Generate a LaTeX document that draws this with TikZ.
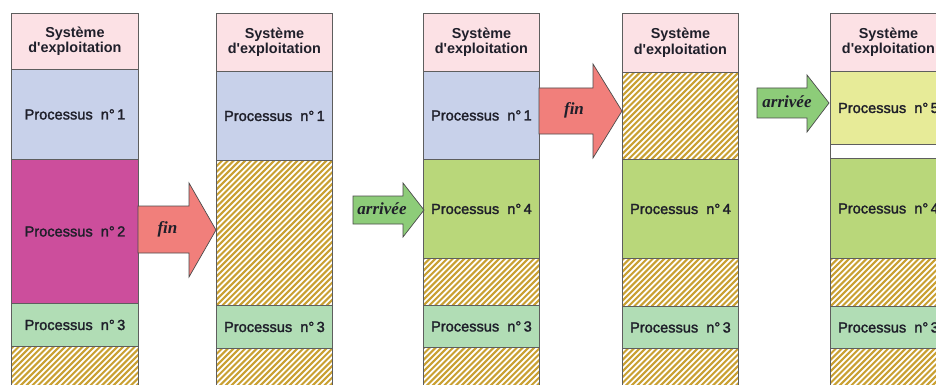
\documentclass[tikz,border=0pt]{standalone}
\usepackage{fontspec}
\setmainfont{Liberation Sans}
\newfontfamily\procfont[FakeBold=1.8]{Liberation Sans}
\newfontfamily\labelserif{Liberation Serif}
\usetikzlibrary{calc}

\definecolor{osc}{HTML}{FCE1E5}
\definecolor{pone}{HTML}{C8D1EA}
\definecolor{ptwo}{HTML}{CC4E9C}
\definecolor{pthree}{HTML}{B1DDB5}
\definecolor{pfour}{HTML}{B9D77A}
\definecolor{pfive}{HTML}{E7EB98}
\definecolor{finc}{HTML}{F17F7B}
\definecolor{arrc}{HTML}{8DCC79}
\definecolor{edge}{HTML}{5E5E5E}
\definecolor{hatchc}{HTML}{C9A032}
\definecolor{ink}{HTML}{1F1F2A}

% one memory block: name, left x, top y, bottom y, width, style, text
\newcommand\memblock[7]{%
  \node[blk,#6,minimum width=#5pt,minimum height={(#4-#3)*1pt}] (#1) at (#2,#3) {#7};}

\begin{document}
\begin{tikzpicture}[x=1pt,y=-1pt,
  blk/.style={draw=edge,line width=0.9pt,anchor=north west,inner sep=0pt,
    text=ink,font=\procfont\fontsize{14.6}{16}\selectfont,align=center},
  os/.style={fill=osc,font=\fontsize{14.4}{15.5}\selectfont\bfseries},
  pa/.style={fill=pone},
  pb/.style={fill=ptwo},
  pc/.style={fill=pthree},
  pd/.style={fill=pfour},
  pe/.style={fill=pfive},
  % free memory: diagonal gold stripes
  freearea/.style={fill=white,path picture={
    \foreach \k in {-40,...,30}
      \draw[hatchc,line width=2.05pt]
        ($(path picture bounding box.south west)+(\k*5.8,0)$) -- ++(220,-220);}},
  gap/.style={fill=white},
  finarrow/.style={fill=finc,draw=edge!80!black,line width=0.7pt,line join=miter},
  arrarrow/.style={fill=arrc,draw=edge!80!black,line width=0.7pt,line join=miter},
  arrowlbl/.style={inner sep=0pt,text=ink,font=\labelserif\fontsize{17}{19}\selectfont\bfseries\itshape}
]
\useasboundingbox (0,0) rectangle (936,385);
\clip (0,0) rectangle (936,385);

\def\ostext{Système\\d\textquotesingle exploitation}
\def\pname#1{Processus\hspace{0.55em}n°\,#1}

% first state
\memblock{aos}{11}{13}{69}{127}{os}{\ostext}
\memblock{aone}{11}{69}{159}{127}{pa}{\pname{1}}
\memblock{atwo}{11}{159}{303}{127}{pb}{\pname{2}}
\memblock{athree}{11}{303}{346}{127}{pc}{\pname{3}}
\memblock{afree}{11}{346}{400}{127}{freearea}{}

% after the end of process 2
\memblock{bos}{216}{13}{71}{116}{os}{\ostext}
\memblock{bone}{216}{71}{160}{116}{pa}{\pname{1}}
\memblock{bfreea}{216}{160}{305}{116}{freearea}{}
\memblock{bthree}{216}{305}{348}{116}{pc}{\pname{3}}
\memblock{bfreeb}{216}{348}{400}{116}{freearea}{}

% arrival of process 4
\memblock{cos}{423}{13}{71}{116}{os}{\ostext}
\memblock{cone}{423}{71}{159}{116}{pa}{\pname{1}}
\memblock{cfour}{423}{159}{258}{116}{pd}{\pname{4}}
\memblock{cfreea}{423}{258}{305}{116}{freearea}{}
\memblock{cthree}{423}{305}{347}{116}{pc}{\pname{3}}
\memblock{cfreeb}{423}{347}{400}{116}{freearea}{}

% after the end of process 1
\memblock{dos}{622}{13}{72}{116}{os}{\ostext}
\memblock{dfreea}{622}{72}{159}{116}{freearea}{}
\memblock{dfour}{622}{159}{258}{116}{pd}{\pname{4}}
\memblock{dfreeb}{622}{258}{306}{116}{freearea}{}
\memblock{dthree}{622}{306}{348}{116}{pc}{\pname{3}}
\memblock{dfreec}{622}{348}{400}{116}{freearea}{}

% arrival of process 5
\memblock{eos}{830}{13}{71}{116}{os}{\ostext}
\memblock{efive}{830}{71}{144}{116}{pe}{\pname{5}}
\memblock{egap}{830}{144}{158}{116}{gap}{}
\memblock{efour}{830}{158}{258}{116}{pd}{\pname{4}}
\memblock{efreea}{830}{258}{306}{116}{freearea}{}
\memblock{ethree}{830}{306}{348}{116}{pc}{\pname{3}}
\memblock{efreeb}{830}{348}{400}{116}{freearea}{}

% block arrows between the states
\draw[finarrow] (138,206) -- (189,206) -- (189,183) -- (216,230)
  -- (189,277) -- (189,253) -- (138,253) -- cycle;
\node[arrowlbl] (fina) at (167.5,229) {fin};

\draw[arrarrow] (353,196) -- (403,196) -- (403,183) -- (424,210)
  -- (403,237) -- (403,224) -- (353,224) -- cycle;
\node[arrowlbl] (arra) at (382,209) {arrivée};

\draw[finarrow] (539,88) -- (593,88) -- (593,64) -- (622,111)
  -- (593,158) -- (593,134) -- (539,134) -- cycle;
\node[arrowlbl] (finb) at (574,110) {fin};

\draw[arrarrow] (757,88) -- (807,88) -- (807,75) -- (829,103)
  -- (807,132) -- (807,118) -- (757,118) -- cycle;
\node[arrowlbl] (arrb) at (787,102) {arrivée};
\end{tikzpicture}
\end{document}
